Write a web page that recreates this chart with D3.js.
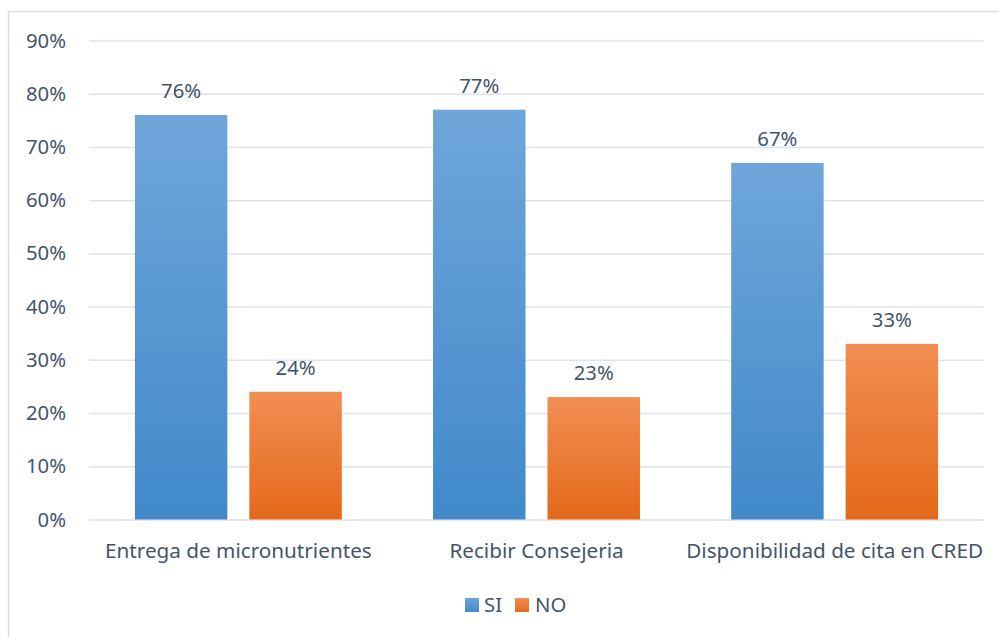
<!DOCTYPE html>
<html><head><meta charset="utf-8">
<script src="https://cdn.jsdelivr.net/npm/d3@7"></script>
<style>
html,body{margin:0;padding:0;background:#fff;}
svg{display:block;font-family:"Noto Sans","Open Sans",sans-serif;}
</style></head>
<body>
<svg id="chart" width="999" height="637"></svg>
<script>
const categories = ["Entrega de micronutrientes", "Recibir Consejeria", "Disponibilidad de cita en CRED"];
const seriesNames = ["SI", "NO"];
const siValues = [0.76, 0.77, 0.67];
const noValues = [0.24, 0.23, 0.33];
const yTicks = [0, 0.1, 0.2, 0.3, 0.4, 0.5, 0.6, 0.7, 0.8, 0.9];

const svg = d3.select("#chart");
const plot = {left: 89, right: 984, top: 40.5, bottom: 519.5};
const textColor = "#44546a";
const gridColor = "#dee2ea";
const fs = 20.3;
const fsCat = 20.7;

// chart border
svg.append("rect").attr("x", 8.5).attr("y", 11.5).attr("width", 1000).attr("height", 700)
  .attr("fill", "#fff").attr("stroke", "#d9dde3").attr("stroke-width", 1.5);

const defs = svg.append("defs");
const gradSpecs = [["gradSI", "#6fa6da", "#4189ca"], ["gradNO", "#f28e52", "#e4691a"]];
gradSpecs.forEach(([id, c1, c2]) => {
  const g = defs.append("linearGradient").attr("id", id).attr("x1", 0).attr("y1", 0).attr("x2", 0).attr("y2", 1);
  g.append("stop").attr("offset", "0%").attr("stop-color", c1);
  g.append("stop").attr("offset", "100%").attr("stop-color", c2);
});

const y = d3.scaleLinear().domain([0, 0.9]).range([plot.bottom, plot.top]);
const x0 = d3.scaleBand().domain(categories).range([plot.left, plot.right]).paddingInner(0.306).paddingOuter(0.154);
const x1 = d3.scaleBand().domain(seriesNames).range([0, x0.bandwidth()]).paddingInner(0.192).paddingOuter(0);

// gridlines + tick labels
const yAxis = d3.axisLeft(y).tickValues(yTicks).tickFormat(d3.format(".0%")).tickSize(-(plot.right - plot.left)).tickPadding(23);
const gAxis = svg.append("g").attr("transform", `translate(${plot.left},0)`).call(yAxis);
gAxis.select(".domain").remove();
gAxis.selectAll(".tick line").attr("stroke", gridColor).attr("stroke-width", 1.5);
gAxis.selectAll(".tick text").attr("fill", textColor).attr("font-size", fs).attr("font-family", "Noto Sans");

// Bars
const data = categories.map((c, i) => ({cat: c, vals: [{s: "SI", v: siValues[i]}, {s: "NO", v: noValues[i]}]}));
const groups = svg.append("g").selectAll("g").data(data).join("g")
  .attr("transform", d => `translate(${x0(d.cat)},0)`);
groups.selectAll("rect").data(d => d.vals).join("rect")
  .attr("x", d => x1(d.s)).attr("width", x1.bandwidth())
  .attr("y", d => y(d.v)).attr("height", d => y(0) - y(d.v))
  .attr("fill", d => d.s === "SI" ? "url(#gradSI)" : "url(#gradNO)");
groups.selectAll("text").data(d => d.vals).join("text")
  .attr("x", d => x1(d.s) + x1.bandwidth() / 2).attr("y", d => y(d.v) - 17)
  .attr("text-anchor", "middle").attr("fill", textColor).attr("font-size", fs)
  .text(d => d3.format(".0%")(d.v));

// x labels
const xAxis = d3.axisBottom(x0).tickSize(0).tickPadding(0);
const gx = svg.append("g").attr("transform", `translate(0,${plot.bottom})`).call(xAxis);
gx.select(".domain").remove();
gx.selectAll(".tick text").attr("fill", textColor).attr("font-size", fsCat).attr("font-family", "Noto Sans")
  .attr("dy", 0).attr("y", 38.5);

// legend
const legendItems = [{name: "SI", fill: "url(#gradSI)", x: 465, tx: 484}, {name: "NO", fill: "url(#gradNO)", x: 515, tx: 535}];
const lg = svg.append("g");
legendItems.forEach(it => {
  lg.append("rect").attr("x", it.x).attr("y", 598).attr("width", 14).attr("height", 14).attr("fill", it.fill);
  lg.append("text").attr("x", it.tx).attr("y", 612).attr("fill", textColor).attr("font-size", fs).text(it.name);
});
</script>
</body></html>
